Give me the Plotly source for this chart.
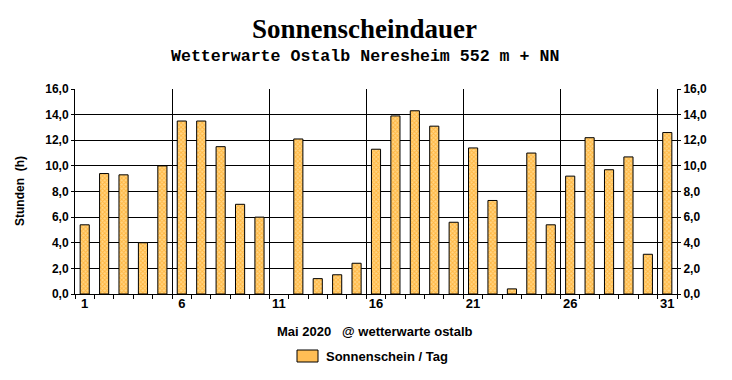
import plotly.graph_objects as go

days = list(range(1, 32))
sunshine = [5.4, 9.4, 9.3, 4.0, 10.0, 13.5, 13.5, 11.5, 7.0, 6.0,
            0.0, 12.1, 1.2, 1.5, 2.4, 11.3, 13.9, 14.3, 13.1, 5.6,
            11.4, 7.3, 0.4, 11.0, 5.4, 9.2, 12.2, 9.7, 10.7, 3.1, 12.6]
x_labels = ["1", "6", "11", "16", "21", "26", "31"]
x_label_pos = [1, 6, 11, 16, 21, 26, 31]
grid_pos = [5.5, 10.5, 15.5, 20.5, 25.5, 30.5]
minor_pos = [d + 0.5 for d in range(0, 32)]

title = "Sonnenscheindauer"
subtitle = "Wetterwarte Ostalb Neresheim 552 m + NN"
x_title = "Mai 2020   @ wetterwarte ostalb"
y_title = "Stunden  (h)"
series_name = "Sonnenschein / Tag"

W, H = 732, 380
L, R, T, B = 75, 677, 89, 294
PW, PH = R - L, B - T


def px(x):
    return (x - L) / PW


def py(y):
    return (B - y) / PH


sans = "Liberation Sans, Arial"
tickfont = dict(family=sans, size=12, color="black", weight="bold")

fig = go.Figure()
fig.add_trace(go.Bar(
    x=days, y=sunshine, name=series_name, width=0.47, showlegend=False,
    marker=dict(color="#FFC060",
                line=dict(color="black", width=[0 if v == 0 else 1 for v in sunshine]),
                pattern=dict(shape="x", fgcolor="#FF9900", bgcolor="#FFD585",
                             size=3, solidity=0.55)),
    xaxis="x", yaxis="y",
))
fig.add_trace(go.Scatter(x=[1], y=[None], xaxis="x2", yaxis="y2",
                         showlegend=False, hoverinfo="skip"))

fig.update_layout(
    width=W, height=H,
    paper_bgcolor="white", plot_bgcolor="white",
    margin=dict(l=L, r=W - R, t=T, b=H - B, autoexpand=False),
    separators=",.",
    showlegend=False,
    xaxis=dict(range=[0.5, 31.5], tickmode="array", tickvals=grid_pos,
               ticktext=[""] * len(grid_pos), automargin=False,
               showgrid=True, gridcolor="black", gridwidth=1,
               ticks="outside", ticklen=4, tickcolor="black",
               showline=True, linecolor="black", linewidth=1,
               minor=dict(tickmode="array", tickvals=minor_pos, ticks="outside",
                          ticklen=4, tickcolor="black", showgrid=False),
               zeroline=False, fixedrange=True),
    xaxis2=dict(range=[0.5, 31.5], overlaying="x", side="bottom", anchor="y",
                tickmode="array", tickvals=x_label_pos, ticktext=x_labels,
                showgrid=False, ticks="", automargin=False,
                tickfont=dict(family=sans, size=13, color="black", weight="bold"),
                showline=False, zeroline=False),
    yaxis=dict(range=[0, 16], dtick=2, tickformat=".1f", showgrid=True,
               gridcolor="black", gridwidth=1, ticks="outside", ticklen=3,
               tickcolor="black", showline=True, linecolor="black", linewidth=1,
               tickfont=tickfont, zeroline=False, automargin=False),
    yaxis2=dict(range=[0, 16], dtick=2, tickformat=".1f", overlaying="y",
                side="right", showgrid=False, ticks="outside", ticklen=3,
                tickcolor="black", showline=True, linecolor="black", linewidth=1,
                tickfont=tickfont, zeroline=False, automargin=False),
)

fig.add_annotation(text="<b>" + title + "</b>", xref="paper", yref="paper",
                   x=px(364), y=py(29), xanchor="center", yanchor="middle",
                   showarrow=False,
                   font=dict(family="Liberation Serif, Times New Roman", size=27,
                             color="black"))
fig.add_annotation(text="<b>" + subtitle + "</b>", xref="paper", yref="paper",
                   x=px(365), y=py(56), xanchor="center", yanchor="middle",
                   showarrow=False,
                   font=dict(family="Liberation Mono, Courier New", size=16.6,
                             color="black"))
fig.add_annotation(text="<b>" + x_title + "</b>", xref="paper", yref="paper",
                   x=px(375), y=py(331), xanchor="center", yanchor="middle",
                   showarrow=False,
                   font=dict(family=sans, size=13, color="black"))
fig.add_annotation(text="<b>" + y_title + "</b>", xref="paper", yref="paper",
                   x=px(20), y=py(191), xanchor="center", yanchor="middle",
                   textangle=-90, showarrow=False,
                   font=dict(family=sans, size=12, color="black"))
# legend
fig.add_shape(type="rect", xref="paper", yref="paper",
              x0=px(297), x1=px(318), y0=py(362), y1=py(350),
              fillcolor="#FFBE55", line=dict(color="black", width=1))
fig.add_annotation(text="<b>" + series_name + "</b>", xref="paper", yref="paper",
                   x=px(324), y=py(356), xanchor="left", yanchor="middle",
                   showarrow=False,
                   font=dict(family=sans, size=13, color="black"))

fig.write_html("out.html", config={"displayModeBar": False},
               post_script="document.body.style.margin='0';document.body.style.overflow='hidden';")
